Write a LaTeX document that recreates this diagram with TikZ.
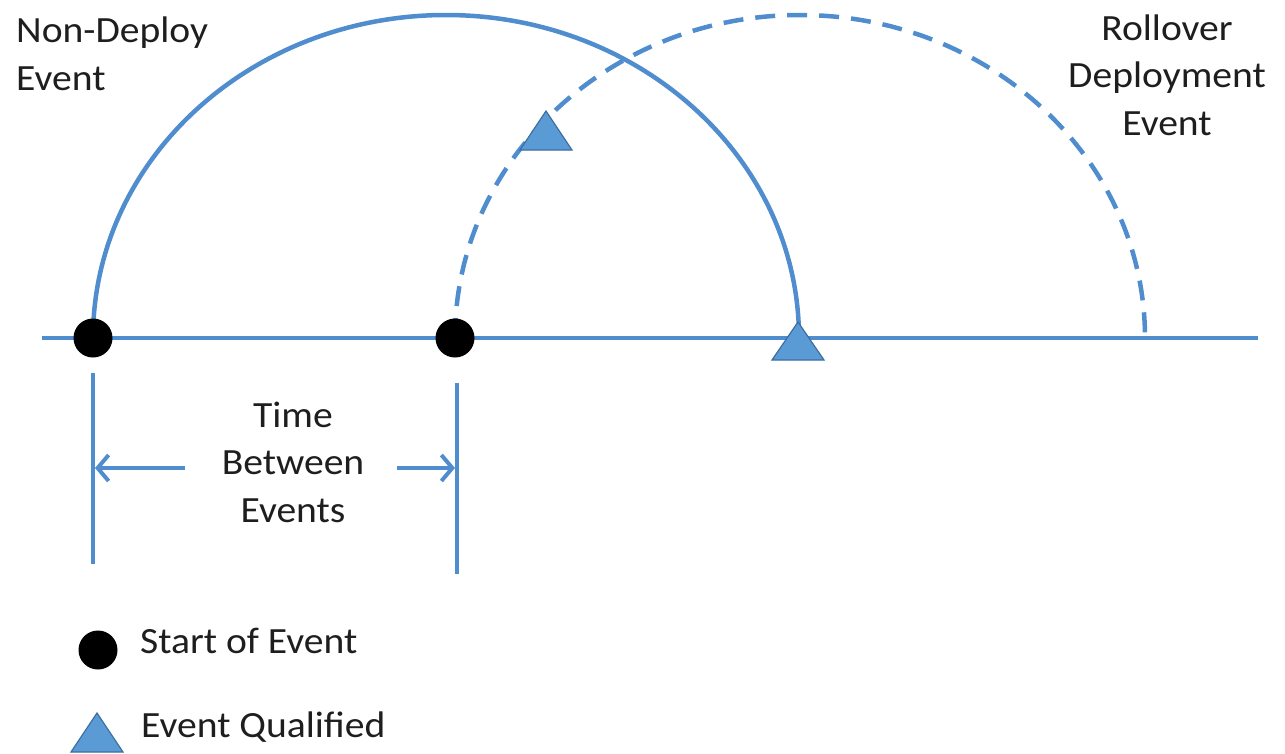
\documentclass[tikz,border=0pt]{standalone}
\usepackage{fontspec}
\setmainfont{Carlito}[FakeStretch=1.07]
\usetikzlibrary{arrows.meta}
\definecolor{lineblue}{RGB}{80,141,207}
\definecolor{trifill}{RGB}{91,155,213}
\definecolor{triedge}{RGB}{60,110,160}
\definecolor{textcol}{RGB}{30,30,30}
\tikzset{
  bl/.style={draw=lineblue, line width=4.5pt},
  dashedarc/.style={draw=lineblue, line width=4.5pt, dash pattern=on 20pt off 12pt},
  dot/.style={circle, fill=black, minimum size=39pt, inner sep=0pt},
  tri/.style={fill=trifill, draw=triedge, line width=1.2pt, line join=miter},
  lbl/.style={text=textcol, inner sep=0pt, font=\fontsize{37}{47.5}\selectfont},
  dim/.style={draw=lineblue, line width=4pt},
  dimarrow/.style={draw=lineblue, line width=4pt, -{Straight Barb[length=11pt, width=26pt, line width=4pt]}}
}
\begin{document}
\begin{tikzpicture}[x=1pt,y=-1pt]
\useasboundingbox (0,0) rectangle (1285,753);
% axis
\coordinate (axL) at (42,338);
\coordinate (axR) at (1258,338);
\draw[bl] (axL) -- (axR);
% event start points
\coordinate (p1) at (93,338);
\coordinate (p2) at (455,338);
% arcs
\draw[bl] (p1) arc[start angle=180, end angle=360, x radius=353, y radius=323];
\draw[dashedarc] (p2) arc[start angle=180, end angle=360, x radius=345, y radius=323];
% dots
\node[dot] (d1) at (p1) {};
\node[dot] (d2) at (p2) {};
% triangles
\filldraw[tri] (798,322) -- (824,360) -- (772,360) -- cycle;
\filldraw[tri] (546,111) -- (572,150) -- (520,150) -- cycle;
% dimension lines
\coordinate (v1t) at (93,373);
\coordinate (v1b) at (93,564);
\coordinate (v2t) at (457,383);
\coordinate (v2b) at (457,574);
\draw[dim] (v1t) -- (v1b);
\draw[dim] (v2t) -- (v2b);
\coordinate (a1s) at (185,468);
\coordinate (a1e) at (95,468);
\coordinate (a2s) at (397,468);
\coordinate (a2e) at (455,468);
\draw[dimarrow] (a1s) -- (a1e);
\draw[dimarrow] (a2s) -- (a2e);
% labels (base anchor = baseline of last line)
\node[lbl, anchor=base west, align=left] (nd) at (16,90) {Non-Deploy\\Event};
\node[lbl, anchor=base, align=center] (ro) at (1167,135) {Rollover\\Deployment\\Event};
\node[lbl, anchor=base, align=center] (tb) at (293,522) {Time\\Between\\Events};
% legend
\node[dot] (ld) at (98,650) {};
\node[lbl, anchor=base west] (lt1) at (140,653) {Start of Event};
\filldraw[tri] (97,713) -- (123,752) -- (71,752) -- cycle;
\node[lbl, anchor=base west] (lt2) at (141,737) {Event Qualified};
\end{tikzpicture}
\end{document}
